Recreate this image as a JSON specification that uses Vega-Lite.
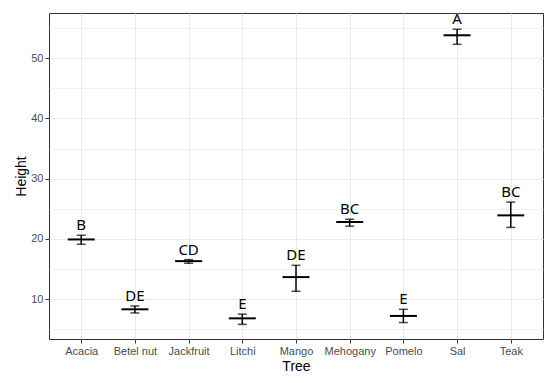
{
  "$schema": "https://vega.github.io/schema/vega-lite/v6.json",
  "autosize": {"type": "none"},
  "padding": {"left": 49, "top": 13, "right": 7, "bottom": 44},
  "width": 494,
  "height": 326,
  "background": "white",
  "data": {
    "values": [
      {"Tree": "Acacia", "mean": 19.9, "lo": 19.1, "hi": 20.6, "label": "B"},
      {"Tree": "Betel nut", "mean": 8.3, "lo": 7.7, "hi": 8.85, "label": "DE"},
      {"Tree": "Jackfruit", "mean": 16.3, "lo": 15.95, "hi": 16.55, "label": "CD"},
      {"Tree": "Litchi", "mean": 6.8, "lo": 5.8, "hi": 7.5, "label": "E"},
      {"Tree": "Mango", "mean": 13.65, "lo": 11.3, "hi": 15.6, "label": "DE"},
      {"Tree": "Mehogany", "mean": 22.8, "lo": 22.1, "hi": 23.25, "label": "BC"},
      {"Tree": "Pomelo", "mean": 7.2, "lo": 6.1, "hi": 8.3, "label": "E"},
      {"Tree": "Sal", "mean": 53.8, "lo": 52.3, "hi": 54.8, "label": "A"},
      {"Tree": "Teak", "mean": 23.9, "lo": 21.9, "hi": 26.1, "label": "BC"}
    ]
  },
  "encoding": {
    "x": {
      "field": "Tree",
      "type": "nominal",
      "sort": null,
      "scale": {"type": "point", "padding": 0.6},
      "axis": {
        "title": "Tree",
        "labelAngle": 0,
        "grid": true,
        "labelPadding": 2,
        "titlePadding": 3
      }
    }
  },
  "layer": [
    {
      "mark": {"type": "tick", "color": "black", "size": 27, "thickness": 2, "opacity": 1},
      "encoding": {
        "y": {
          "field": "mean",
          "type": "quantitative",
          "scale": {"domain": [3.37, 57.5], "nice": false, "zero": false},
          "axis": {
            "title": "Height",
            "values": [10, 20, 30, 40, 50],
            "labelPadding": 2,
            "titlePadding": 2
          }
        }
      }
    },
    {
      "mark": {
        "type": "errorbar",
        "color": "black",
        "thickness": 1.5,
        "ticks": {"size": 9, "thickness": 1.5, "color": "black"}
      },
      "encoding": {
        "y": {
          "field": "lo",
          "type": "quantitative",
          "axis": {
            "orient": "right",
            "title": null,
            "values": [5, 15, 25, 35, 45, 55],
            "grid": true,
            "gridWidth": 0.7,
            "labels": false,
            "ticks": false,
            "domain": false
          }
        },
        "y2": {"field": "hi"}
      }
    },
    {
      "mark": {
        "type": "text",
        "font": "Noto Sans",
        "fontSize": 15,
        "color": "black",
        "baseline": "alphabetic",
        "dy": -5
      },
      "encoding": {
        "y": {"field": "hi", "type": "quantitative", "axis": null},
        "text": {"field": "label"}
      }
    }
  ],
  "resolve": {"axis": {"y": "independent"}},
  "config": {
    "view": {"stroke": "#333333", "strokeWidth": 1},
    "axis": {
      "domain": false,
      "gridColor": "#EBEBEB",
      "tickColor": "#333333",
      "tickSize": 4,
      "labelColor": "#4D4D4D",
      "labelFont": "Liberation Sans",
      "labelFontSize": 11,
      "titleFont": "Liberation Sans",
      "titleFontSize": 14,
      "titleFontWeight": "normal",
      "titleColor": "black"
    }
  }
}
